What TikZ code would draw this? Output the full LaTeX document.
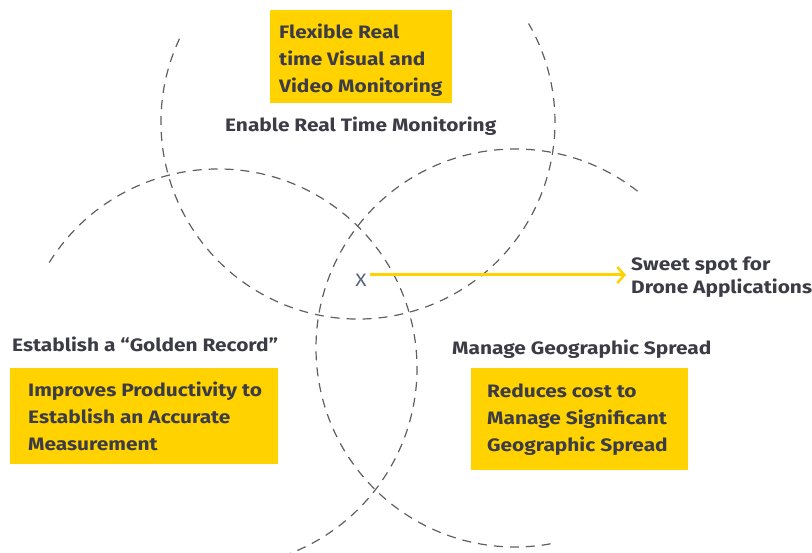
\documentclass[tikz,border=0pt]{standalone}
\usepackage{fontspec}
\setmainfont{Fira Sans}[FakeStretch=1.16]
\usepackage{tikz}
\usetikzlibrary{arrows.meta}
\definecolor{gold}{RGB}{255,210,0}
\definecolor{ink}{RGB}{60,60,70}
\definecolor{xblue}{RGB}{88,100,128}
\definecolor{ringgray}{RGB}{95,95,95}
\tikzstyle{ring}=[ringgray,line width=1.2pt,dash pattern=on 9pt off 7pt]
\tikzstyle{goldbox}=[fill=gold,inner sep=0pt]
\tikzstyle{boxtext}=[ink,inner sep=0pt,align=left,font=\bfseries\fontsize{18}{27}\selectfont]
\tikzstyle{caption}=[ink,inner sep=0pt,align=left,font=\bfseries\fontsize{18}{23}\selectfont]
\tikzstyle{sweetarrow}=[gold,line width=3pt,-{Straight Barb[length=7pt,width=16pt,line width=2.5pt]}]
% dashed ring: centre x, centre y, start angle, end angle, radius
\newcommand{\ring}[5]{
  \draw[ring] (#1,#2) ++(#3:#5) arc (#3:#4:#5);
}

\begin{document}
\begin{tikzpicture}[x=1pt,y=1pt]
\useasboundingbox (0,0) rectangle (812,-553);

\ring{358}{-122}{155}{390}{197};
\ring{218}{-368}{148}{-70}{199};
\ring{515}{-348}{52}{282}{199};

% yellow boxes
\node[goldbox,minimum width=182pt,minimum height=93pt,anchor=north west] (monbox) at (270,-10) {};
\node[boxtext,anchor=west] (montext) at ([xshift=9pt,yshift=-4pt]monbox.west)
  {Flexible Real\\time Visual and\\Video Monitoring};

\node[goldbox,minimum width=268pt,minimum height=96pt,anchor=north west] (prodbox) at (10,-368) {};
\node[boxtext,anchor=west] (prodtext) at ([xshift=18pt]prodbox.west)
  {Improves Productivity to\\Establish an Accurate\\Measurement};

\node[goldbox,minimum width=217pt,minimum height=102pt,anchor=north west] (geobox) at (471,-368) {};
\node[boxtext,anchor=west] (geotext) at ([xshift=16pt]geobox.west)
  {Reduces cost to\\Manage Significant\\Geographic Spread};

% ring titles
\node[caption,anchor=base west] (monitor) at (225,-132) {Enable Real Time Monitoring};
\node[caption,anchor=base west] (golden) at (12,-352) {Establish a ``Golden Record''};
\node[caption,anchor=base west] (spread) at (452,-355) {Manage Geographic Spread};

% sweet spot
\node[xblue,inner sep=0pt,font=\fontsize{18}{20}\selectfont] (xmark) at (361,-280) {X};
\node[caption,anchor=west] (sweet) at (631,-277) {Sweet spot for\\Drone Applications};
\draw[sweetarrow] ([xshift=3pt,yshift=5pt]xmark.east) -- ([xshift=-5pt,yshift=2pt]sweet.west);

\end{tikzpicture}
\end{document}
